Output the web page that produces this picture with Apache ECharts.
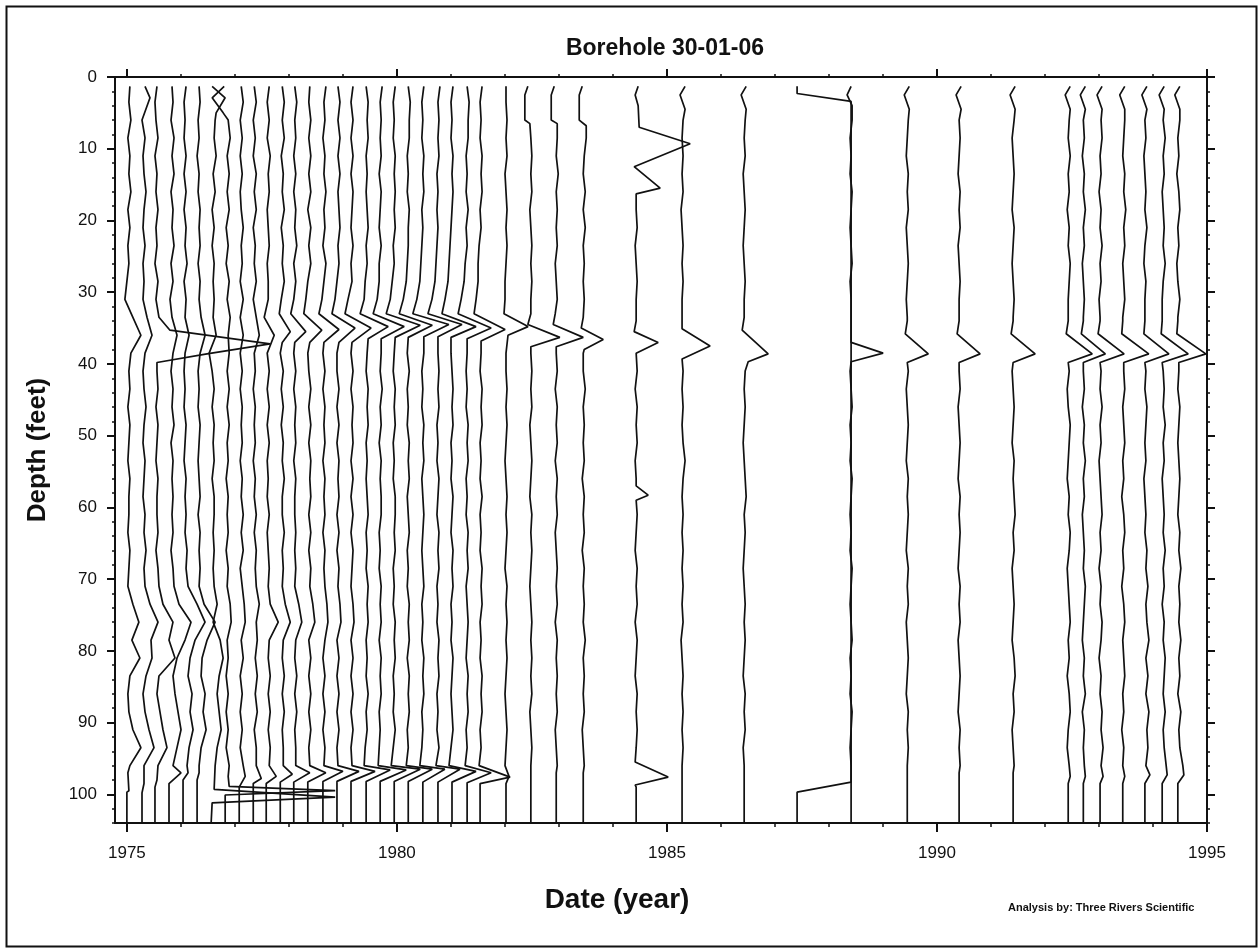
<!DOCTYPE html>
<html><head><meta charset="utf-8">
<script src="https://cdn.jsdelivr.net/npm/echarts@6/dist/echarts.min.js"></script>
<style>html,body{margin:0;padding:0;background:#fff}#c{width:1259px;height:949px}</style>
</head><body><div id="c"></div>
<script>
const chartTitle = 'Borehole 30-01-06';
const xTitle = 'Date (year)';
const yTitle = 'Depth (feet)';
const credit = 'Analysis by: Three Rivers Scientific';
const xMajorTicks = [1975, 1980, 1985, 1990, 1995];
const xMinorTicks = [1975,1976,1977,1978,1979,1980,1981,1982,1983,1984,1985,1986,1987,1988,1989,1990,1991,1992,1993,1994,1995];
const yMajorTicks = [0,10,20,30,40,50,60,70,80,90,100];
const yMinorTicks = [0,2,4,6,8,10,12,14,16,18,20,22,24,26,28,30,32,34,36,38,40,42,44,46,48,50,52,54,56,58,60,62,64,66,68,70,72,74,76,78,80,82,84,86,88,90,92,94,96,98,100,102,104];

// survey date (year) of each log trace = its zero line
const traceDates = [1975.00,1975.28,1975.52,1975.78,1976.04,1976.30,1976.56,1976.82,1977.08,1977.34,1977.58,1977.84,1978.09,1978.35,1978.63,1978.89,1979.15,1979.43,1979.69,1979.95,1980.21,1980.48,1980.76,1981.02,1981.30,1981.54,
  1982.02,1982.48,1982.95,1983.45,1984.43,1985.28,1986.43,1987.41,1988.41,1989.45,1990.41,1991.41,1992.43,1992.71,1993.02,1993.44,1993.85,1994.17,1994.46];
// depths (ft) at which the background wiggle of every trace is read
const depthGrid = [1.3,3.5,6,8.5,11,13.5,16,18.5,21,23.5,26,28.5,31,33.5,36,38.5,41,43.5,46,48.5,51,53.5,56,58.5,61,63.5,66,68.5,71,73.5,76,78.5,81,83.5,86,88.5,91,93.5,96];
// anomaly of each trace at depthGrid (units of 1/54 year)
const traceWiggles = [
 [3,2,4,1,3,2,4,1,3,1,2,0,-2, 6,14,4, 2,3,1,3,2,1,3,2, 2,1,3,2,1,6,12,5,13,3,1,2,6,14,3],
 [3,8,1,3,1,2,4,2,1,3,1,2,1, 5,10,3, 1,2,4,2,1,3,2,1, 3,2,4,2,3,8,16,9,10,4,1,3,7,12,2],
 [2,0,1,3,0,2,1,3,1,2,0,3,1, 4,0,0, 2,3,1,3,2,1,3,2, 2,3,1,3,4,8,18,14,20,4,2,5,8,12,3],
 [3,4,2,5,3,5,2,4,3,5,2,4,1, 3,8,4, 2,4,3,5,2,4,3,4, 3,4,2,4,5,10,22,16,8,4,6,9,12,8,4],
 [3,1,2,1,3,1,3,1,3,2,4,1,3, 2,6,2, 1,2,1,3,2,1,3,2, 3,2,4,3,5,14,22,12,7,5,9,7,10,6,4],
 [2,3,1,2,0,2,1,3,2,3,1,3,2, 4,8,3, 1,2,1,3,2,1,2,3, 1,3,2,3,2,7,18,10,5,4,8,6,9,4,2],
 [1,14,4,3,5,2,4,1,3,1,3,2,3, 2,5,-2, 1,3,1,3,2,3,1,3, 3,2,3,2,3,6,2,9,12,8,6,8,10,6,4],
 [0,-12,3,5,2,4,2,4,1,3,1,4,2, 5,3,4, 2,4,2,4,2,3,1,3, 2,3,1,3,2,5,6,2,3,1,3,1,3,1,4],
 [2,4,1,3,1,3,1,2,4,2,3,1,4, 1,4,1, 3,1,3,2,3,1,3,2, 4,2,4,1,3,5,6,2,4,1,3,1,3,1,4],
 [1,3,0,2,0,3,1,3,0,2,1,3,0, 3,6,1, 2,0,2,1,2,0,2,1, 3,1,3,2,3,6,3,4,2,4,2,4,1,3,3],
 [3,1,3,1,4,2,3,1,2,3,1,2,2, -2,8,1, 3,1,3,1,3,1,2,1, 3,1,2,3,2,4,12,3,2,4,2,4,2,4,3],
 [2,4,2,4,1,3,2,4,1,3,2,4,1, 0,0,0, 3,1,3,1,3,2,4,2, 2,4,2,3,2,5,10,3,2,4,2,4,2,3,3],
 [1,3,1,2,0,2,0,2,1,3,0,2,0, 0,0,0, 2,0,2,1,2,0,2,1, 1,2,1,2,1,5,8,2,1,3,1,3,1,2,2],
 [2,1,3,1,3,1,3,0,3,1,3,0,-1, 0,0,0, 1,3,1,3,1,3,2,3, 1,3,1,3,2,5,7,1,3,1,3,1,3,1,2],
 [3,1,2,0,2,1,3,1,2,0,3,1,-1, 0,0,0, 2,0,2,1,2,0,2,1, 2,0,2,1,2,4,5,2,0,2,0,2,0,2,1],
 [1,3,1,3,1,3,1,2,3,1,2,0,-2, 0,0,0, 0,2,0,2,0,2,1,2, 0,2,0,2,1,3,4,0,2,0,2,0,2,0,1],
 [2,0,2,0,2,0,2,1,0,2,0,1,-3, 0,0,0, 2,0,2,1,2,0,2,0, 2,0,2,1,0,2,3,0,2,0,2,0,2,0,1],
 [0,2,1,2,0,1,0,1,2,0,1,-1,-2, 0,0,1, 0,2,1,2,0,1,0,1, 2,0,1,0,2,1,2,0,1,0,2,0,1,-1,-2],
 [2,0,1,0,1,-1,1,0,-1,1,-1,-1,-3, 0,0,1, 0,2,0,1,-1,1,0,1, 1,-1,0,-1,1,0,1,-1,1,0,1,-1,0,-1,-2],
 [1,-1,0,-1,1,0,1,0,1,-1,0,-2,-4, 0,0,0, -1,1,0,1,-1,0,-1,1, 1,0,1,-1,0,-1,1,0,1,-1,0,-1,1,-1,-3],
 [0,2,1,1,-1,0,-1,1,0,0,-1,-2,-5, 0,0,-1, 1,-1,0,-1,1,0,1,-1, 0,1,-1,0,-1,1,0,1,-1,1,0,1,-1,0,-2],
 [1,-1,0,-1,1,0,1,-1,0,-1,-2,-3,-6, 0,0,1, -1,0,-1,1,0,1,-1,0, 1,0,-1,0,1,-1,0,-1,1,0,1,-1,0,-1,-3],
 [2,0,1,0,1,-1,0,-1,0,-1,-2,-3,-6, 0,0,0, 1,0,1,-1,0,-1,1,0, -1,1,0,1,-1,0,-1,1,0,1,-1,0,-1,1,-2],
 [1,-1,0,-1,1,0,1,0,-1,-2,-3,-4,-7, 0,0,-1, 0,1,0,1,-1,0,-1,1, 0,-1,1,0,1,-1,0,-1,1,0,-1,0,1,-1,-3],
 [0,2,1,1,-1,0,-1,1,-1,0,-2,-3,-6, 0,0,0, -1,0,-1,1,0,1,-1,0, -1,1,0,1,-1,0,1,0,-1,1,0,1,-1,0,-2],
 [2,0,1,0,2,1,2,0,1,-1,-2,-2,-4, 0,0,1, 0,2,1,2,0,1,0,2, 0,1,0,2,1,2,0,1,0,2,1,2,0,1,-1],
 [0,0,1,0,1,-1,0,1,0,1,0,-1,-1, 0,0,0, 0,1,0,1,0,-1,0,1, 0,1,0,-1,1,0,1,0,1,0,-1,0,1,0,-1],
 [-3,-6,-6,0,1,0,1,-1,0,1,0,1,0, 0,0,0, 1,0,1,-1,0,1,0,-1, 1,0,1,0,-1,0,1,0,1,0,1,-1,0,1,0],
 [-2,-5,-5,1,0,2,0,1,0,1,-1,0,1, 0,0,0, 1,-1,1,0,1,-1,1,0, 1,-1,0,1,0,1,-1,1,0,1,0,1,-1,0,1],
 [-1,-4,-4,3,1,0,2,0,2,0,1,0,1, 0,0,0, 0,2,0,1,0,1,-1,1, 0,1,-1,1,0,1,0,2,0,1,0,1,-1,0,1],
 [2,-1,2,3,0,0,0,0,1,-1,0,1,0, 0,0,0, 1,-1,1,0,1,-1,0,0, 1,0,-1,1,0,1,-1,1,0,-1,1,0,1,0,-1],
 [3,-2,1,0,1,0,1,-1,0,1,0,1,0, 0,0,0, 1,0,1,0,1,3,1,0, 1,0,1,0,1,0,1,-1,0,1,0,1,0,1,0],
 [2,-3,1,0,1,-1,0,1,0,-1,0,1,0, 0,0,0, 1,0,1,0,-1,0,1,2, 0,1,0,-1,0,1,0,1,0,-1,1,0,1,-1,0],
 [54,54,54,54,54,54,54,54,54,54,54,54,54, 54,54,54, 54,54,54,54,54,54,54,54, 54,54,54,54,54,54,54,54,54,54,54,54,54,54,54],
 [0,-4,1,-1,0,-1,1,0,-1,0,1,-1,0, 0,0,0, -1,0,1,-1,0,-1,1,0, -1,0,-1,1,0,-1,0,1,-1,0,-1,1,0,-1,0],
 [2,-3,1,0,-1,1,0,1,-1,0,1,0,-1, 0,0,0, 1,-1,0,1,0,-1,1,0, 1,0,-1,1,0,1,-1,0,1,0,-1,1,0,1,0],
 [2,-3,0,1,0,-1,1,0,1,-1,0,1,0, 0,0,0, 0,1,-1,0,1,0,-1,1, 0,1,0,-1,1,0,1,-1,0,1,0,-1,1,0,1],
 [2,-3,1,-1,0,1,0,-1,1,0,-1,0,1, 0,0,0, -1,0,1,0,-1,1,0,1, 2,0,1,-1,0,1,0,-1,1,2,0,1,-1,0,1],
 [2,-3,1,0,2,0,1,-1,1,0,2,1,0, 0,0,0, 1,-1,0,2,1,0,-1,1, 0,2,1,-1,0,1,2,0,1,-1,1,2,0,-1,1],
 [2,-3,0,1,-1,1,0,2,0,1,-1,0,1, 0,0,0, 0,1,-1,1,0,2,0,1, -1,0,1,0,2,1,0,-1,1,0,2,-1,1,0,1],
 [2,-3,1,2,0,1,-1,1,0,2,0,1,-1, 0,0,0, 1,0,2,0,1,-1,0,1, 2,0,1,-1,1,0,2,1,-1,1,0,2,1,3,1],
 [2,-3,2,1,0,2,1,3,1,2,0,1,2, 0,0,0, 1,2,0,1,2,0,1,-1, 1,2,0,1,-1,1,2,0,1,2,0,1,-1,1,0],
 [2,-3,0,1,-1,0,1,0,2,0,-1,1,0, 0,0,0, 1,0,2,1,0,1,-1,0, 1,0,2,1,3,1,2,4,1,3,1,4,2,3,1],
 [2,-3,1,3,1,2,0,1,2,1,3,1,0, 0,0,0, 1,2,1,3,1,2,0,1, 2,1,3,1,2,0,2,1,3,2,1,3,1,2,4],
 [2,-3,2,0,1,-1,1,2,0,1,-1,0,2, 0,0,0, 1,0,2,1,0,1,2,1, 0,2,1,3,1,2,1,3,1,2,0,3,1,2,5]
];
// sharp features of each trace (hooks, spikes, end jog back to the zero line): [depth, anomaly]
const traceFeatures = [
 [[[97,1],[99.5,2],[99.7,0],[104,0]]],
 [[[1.3,3],[2.9,8],[6,0]], [[98.5,2],[99.8,0],[104,0]]],
 [[[35.3,15],[37.2,115],[38.6,52],[39.8,2]], [[98,2],[99,0],[104,0]]],
 [[[97,12],[98.5,0],[104,0]]],
 [[[97,5],[98,0],[104,0]]],
 [[[97,2],[98,0],[104,0]]],
 [[[1.3,1],[2.9,14],[5,5]], [[99.3,3],[100.4,124],[101.2,1],[101.4,0],[104,0]]],
 [[[1.3,-1],[2.9,-13],[5,-2]], [[97.5,3],[98.9,4],[99.5,110],[100.1,0],[104,0]]],
 [[[97.5,6],[99,0],[104,0]]],
 [[[97.8,8],[98.5,0],[104,0]]],
 [[[97.5,10],[98.5,0],[104,0]]],
 [[[31,1],[33,-1],[35.5,10],[37,2]], [[97.2,12],[98.3,0],[104,0]]],
 [[[31,0],[33,-3],[35.5,12],[37,1]], [[97,16],[98.3,0],[104,0]]],
 [[[31,-2],[33,-4],[35.3,14],[37,2]], [[97,18],[98.3,0],[104,0]]],
 [[[31,-1],[33,-4],[35.2,16],[37,1]], [[96.8,20],[98.2,0],[104,0]]],
 [[[31,-2],[33,-5],[35,18],[37,2]], [[96.8,22],[98.2,0],[104,0]]],
 [[[31,-3],[33,-6],[35,20],[37,1]], [[96.8,24],[98.2,0],[104,0]]],
 [[[31,-2],[33,-6],[34.8,22],[36.5,2]], [[96.6,24],[98.2,0],[104,0]]],
 [[[31,-3],[33,-7],[34.8,24],[36.5,1]], [[96.6,26],[98.2,0],[104,0]]],
 [[[31,-4],[33,-8],[34.6,26],[36.3,1]], [[96.5,26],[98.2,0],[104,0]]],
 [[[31,-5],[33,-9],[34.6,24],[36.3,0]], [[96.5,24],[98.2,0],[104,0]]],
 [[[31,-6],[33,-10],[34.5,26],[36.2,1]], [[96.5,22],[98.3,0],[104,0]]],
 [[[31,-6],[33,-10],[34.5,24],[36.2,0]], [[96.5,22],[98.3,0],[104,0]]],
 [[[31,-7],[33,-10],[34.8,24],[36.3,-1]], [[96.8,24],[98.3,0],[104,0]]],
 [[[31,-6],[33,-9],[35,24],[36.5,0]], [[97,24],[98.4,0],[104,0]]],
 [[[31,-4],[33,-6],[35.2,25],[36.8,1]], [[97.6,30],[98.5,0],[104,0]]],
 [[[31,-1],[33,-2],[34.8,22],[36,2]], [[97.5,3],[98.5,0],[104,0]]],
 [[[1.3,-3],[2.5,-6],[6,-6],[6.5,-1]], [[33,0],[34.5,-3],[36.3,29],[37.6,0]], [[97,0],[104,0]]],
 [[[1.3,-2],[2.5,-5],[6,-5],[6.5,1]], [[33,-1],[34.5,-3],[36.3,27],[37.6,0]], [[97,0],[104,0]]],
 [[[1.3,-1],[2.5,-4],[6,-4],[6.8,3]], [[33.5,0],[35,-2],[36.6,20],[38,1]], [[97,0],[104,0]]],
 [[[1.3,2],[2.5,-1],[4,2],[7,3],[9.3,54],[12.5,-2],[15.5,24],[16.3,0]], [[34,0],[35.5,-2],[37,22],[38.5,0]], [[57,0],[58.3,12],[59,0]], [[95.5,-1],[97.6,32],[98.7,-1],[99,0],[104,0]]],
 [[[1.3,3],[2.5,-2],[4.5,3]], [[35.1,0],[37.5,28],[39.3,0]], [[97,0],[104,0]]],
 [[[1.3,2],[2.5,-3],[4.5,2]], [[33.5,0],[35.3,-2],[38.6,24],[39.7,4],[41,1]], [[97,0],[104,0]]],
 [[[1.3,0],[2.3,0],[3.4,54]], [[98.3,54],[99.7,0],[104,0]]],
 [[[1.3,0],[2.5,-4],[4,1]], [[37,0],[38.5,32],[39.7,0]], [[97,0],[104,0]]],
 [[[1.3,2],[2.5,-3],[4.5,2]], [[34,0],[35.8,-2],[38.6,21],[39.8,0]], [[97,0],[104,0]]],
 [[[1.3,2],[2.5,-3],[4.5,2]], [[34,0],[35.8,-2],[38.6,21],[39.8,0]], [[97,0],[104,0]]],
 [[[1.3,2],[2.5,-3],[4.5,2]], [[34,0],[35.8,-2],[38.6,22],[39.8,0]], [[97,0],[104,0]]],
 [[[1.3,2],[2.5,-3],[4.5,2]], [[34,0],[35.8,-2],[38.6,24],[39.8,0]], [[97.5,2],[98.5,0],[104,0]]],
 [[[1.3,2],[2.5,-3],[4.5,2]], [[34,0],[35.8,-2],[38.6,22],[39.8,0]], [[97.5,2],[98.5,0],[104,0]]],
 [[[1.3,2],[2.5,-3],[4.5,2]], [[34,0],[35.8,-2],[38.6,24],[39.8,0]], [[97.5,3],[98.5,0],[104,0]]],
 [[[1.3,2],[2.5,-3],[4.5,2]], [[34,0],[35.8,-1],[38.6,26],[39.8,1]], [[97.5,2],[98.5,0],[104,0]]],
 [[[1.3,2],[2.5,-3],[4.5,2]], [[34,0],[35.8,-1],[38.6,24],[39.8,0]], [[97.3,5],[98.5,0],[104,0]]],
 [[[1.3,2],[2.5,-3],[4.5,2]], [[34,0],[35.8,-1],[38.6,26],[39.8,0]], [[97.3,5],[98.5,0],[104,0]]],
 [[[1.3,2],[2.5,-3],[4.5,2]], [[34,0],[35.8,-1],[38.6,28],[39.8,1]], [[97.3,6],[98.5,0],[104,0]]]
];
const OFFSET_YEARS = 1 / 54; // one anomaly unit, in years

function profile(i) {
  const feats = traceFeatures[i] || [];
  const ranges = feats.map(c => [c[0][0], c[c.length - 1][0]]);
  const pts = [];
  depthGrid.forEach((d, k) => {
    const v = traceWiggles[i][k];
    if (v === undefined || v === null) return;
    if (!ranges.some(r => d >= r[0] && d <= r[1])) pts.push([d, v]);
  });
  feats.forEach(c => c.forEach(p => pts.push(p)));
  pts.sort((a, b) => a[0] - b[0]);
  return pts;
}

const chart = echarts.init(document.getElementById('c'), null, {renderer: 'canvas'});
const series = traceDates.map((d, i) => ({
  type: 'line', xAxisIndex: 0, yAxisIndex: 0, symbol: 'none', silent: true,
  animation: false, clip: false,
  lineStyle: {color: '#111', width: 1.7},
  data: profile(i).map(p => [d + p[1] * OFFSET_YEARS, p[0]])
}));
const font = 'Liberation Sans, Arial, sans-serif';
const plain = v => String(v);
const xBase = {type: 'value', min: 1974.78, max: 1995, splitLine: {show: false}, gridIndex: 0};
const yBase = {type: 'value', min: 0, max: 104, inverse: true, splitLine: {show: false}, gridIndex: 0};
const line = (show) => ({show: show, onZero: false, lineStyle: {color: '#111', width: 2}});
chart.setOption({
  backgroundColor: '#fff',
  animation: false,
  title: {text: chartTitle, left: 660, top: 32, textAlign: 'center',
    textStyle: {fontFamily: font, fontSize: 23, fontWeight: 'bold', color: '#111'}},
  grid: {left: 115, right: 52, top: 77, bottom: 126},
  xAxis: [
    Object.assign({}, xBase, {position: 'bottom',
      axisLine: line(true),
      axisTick: {customValues: xMajorTicks, length: 9, lineStyle: {color: '#111', width: 2}},
      axisLabel: {customValues: xMajorTicks, formatter: plain, margin: 22, fontFamily: font, fontSize: 17, color: '#111'}}),
    Object.assign({}, xBase, {position: 'bottom', axisLine: line(false),
      axisTick: {customValues: xMinorTicks, length: 4, lineStyle: {color: '#111', width: 1.5}},
      axisLabel: {show: false}}),
    Object.assign({}, xBase, {position: 'top',
      axisLine: line(true),
      axisTick: {customValues: xMajorTicks, length: 8, lineStyle: {color: '#111', width: 2}},
      axisLabel: {show: false}}),
    Object.assign({}, xBase, {position: 'top', axisLine: line(false),
      axisTick: {customValues: xMinorTicks, length: 3, lineStyle: {color: '#111', width: 1.5}},
      axisLabel: {show: false}})
  ],
  yAxis: [
    Object.assign({}, yBase, {position: 'left', name: yTitle, nameLocation: 'middle', nameGap: 64, nameRotate: 90,
      nameTextStyle: {fontFamily: font, fontSize: 26, fontWeight: 'bold', color: '#111'},
      axisLine: line(true),
      axisTick: {customValues: yMajorTicks, length: 8, lineStyle: {color: '#111', width: 2}},
      axisLabel: {customValues: yMajorTicks, formatter: plain, margin: 18, fontFamily: font, fontSize: 17, color: '#111'}}),
    Object.assign({}, yBase, {position: 'left', axisLine: line(false),
      axisTick: {customValues: yMinorTicks, length: 3, lineStyle: {color: '#111', width: 1.5}},
      axisLabel: {show: false}}),
    Object.assign({}, yBase, {position: 'right',
      axisLine: line(true),
      axisTick: {customValues: yMajorTicks, length: 8, lineStyle: {color: '#111', width: 2}},
      axisLabel: {show: false}}),
    Object.assign({}, yBase, {position: 'right', axisLine: line(false),
      axisTick: {customValues: yMinorTicks, length: 3, lineStyle: {color: '#111', width: 1.5}},
      axisLabel: {show: false}})
  ],
  graphic: [
    {type: 'rect', left: 4, top: 4, shape: {width: 1250, height: 940}, silent: true,
      style: {fill: 'none', stroke: '#111', lineWidth: 2}},
    {type: 'text', x: 617, y: 900, silent: true,
      style: {text: xTitle, fontFamily: font, fontSize: 28, fontWeight: 'bold', fill: '#111', align: 'center', verticalAlign: 'middle'}},
    {type: 'text', left: 1008, top: 902, silent: true,
      style: {text: credit, fontFamily: font, fontSize: 11, fontWeight: 'bold', fill: '#111'}}
  ],
  series: series
});
</script></body></html>
